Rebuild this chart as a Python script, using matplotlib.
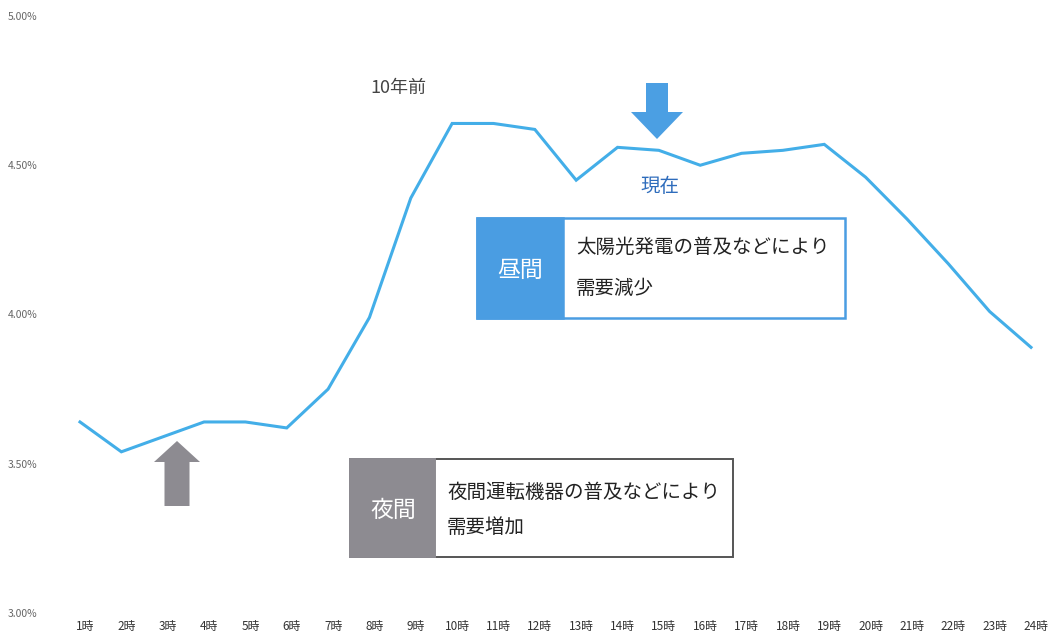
import matplotlib.pyplot as plt
from matplotlib.patches import Rectangle, Polygon
from matplotlib.transforms import ScaledTranslation

plt.rcParams['font.family'] = ['Noto Sans CJK JP', 'DejaVu Sans']

# hourly demand share (%)
hours = list(range(1, 25))
hour_labels = [f'{h}時' for h in hours]
demand = [3.64, 3.54, 3.59, 3.64, 3.64, 3.62, 3.75, 3.99, 4.39, 4.64, 4.64, 4.62,
          4.45, 4.56, 4.55, 4.50, 4.54, 4.55, 4.57, 4.46, 4.32, 4.17, 4.01, 3.89]
y_ticks = [3.0, 3.5, 4.0, 4.5, 5.0]
y_labels = ['3.00%', '3.50%', '4.00%', '4.50%', '5.00%']

W, H = 1050, 639
fig = plt.figure(figsize=(W / 100, H / 100), dpi=100)
ax = fig.add_axes([80 / W, 26 / H, 951 / W, 597 / H])

line_color = '#43aee8'
ax.plot(hours, demand, color=line_color, lw=2.2, clip_on=False, solid_joinstyle='miter')

ax.set_xlim(1, 24)
ax.set_ylim(3, 5)
ax.set_xticks(hours)
ax.set_xticklabels(hour_labels, fontsize=8.5, color='#333333')
ax.set_yticks(y_ticks)
ax.set_yticklabels(y_labels, fontsize=7.5, color='#666666', ha='left')
ax.tick_params(axis='x', length=0, pad=5)
ax.tick_params(axis='y', length=0, pad=52)
for s in ax.spines.values():
    s.set_visible(False)
for lab in ax.get_xticklabels():
    lab.set_transform(lab.get_transform() + ScaledTranslation(0.05, 0, fig.dpi_scale_trans))


def fxy(px, py):
    return px / W, 1 - py / H


def rect(x0, y0, x1, y1, **kw):
    fig.add_artist(Rectangle(fxy(x0, y1), (x1 - x0) / W, (y1 - y0) / H,
                             transform=fig.transFigure, **kw))


def arrow(cx, tail, tip, shaft, head, head_len, color):
    d = 1 if tip > tail else -1
    hb = tip - d * head_len
    pts = [(cx - shaft / 2, tail), (cx + shaft / 2, tail), (cx + shaft / 2, hb),
           (cx + head / 2, hb), (cx, tip), (cx - head / 2, hb), (cx - shaft / 2, hb)]
    fig.add_artist(Polygon([fxy(*p) for p in pts], closed=True, transform=fig.transFigure,
                           facecolor=color, edgecolor='none'))


# labels near the line
fig.text(*fxy(398, 88), '10年前', fontsize=13, color='#444444', ha='center', va='center')
arrow(657, 83, 139, 22, 52, 27, '#4b9fe3')
fig.text(*fxy(660, 187), '現在', fontsize=14, color='#2e6cbc', ha='center', va='center')

# daytime box
blue = '#4a9de2'
rect(477, 218, 845, 318, facecolor='white', edgecolor=blue, lw=1.8)
rect(477, 218, 563, 318, facecolor=blue, edgecolor=blue, lw=1.8)
fig.text(*fxy(520, 270), '昼間', fontsize=16.5, color='white', ha='center', va='center')
fig.text(*fxy(576, 247), '太陽光発電の普及などにより', fontsize=14, color='#222222', va='center')
fig.text(*fxy(576, 288), '需要減少', fontsize=14, color='#222222', va='center')

# night box
gray = '#8d8b91'
arrow(177, 506, 441, 25, 46, 21, gray)
rect(350, 459, 733, 557, facecolor='white', edgecolor='#555555', lw=1.4)
rect(350, 459, 435, 557, facecolor=gray, edgecolor=gray, lw=1.4)
fig.text(*fxy(393, 510), '夜間', fontsize=16.5, color='white', ha='center', va='center')
fig.text(*fxy(447, 492), '夜間運転機器の普及などにより', fontsize=14, color='#222222', va='center')
fig.text(*fxy(447, 527), '需要増加', fontsize=14, color='#222222', va='center')

fig.savefig('out.png', dpi=100)
